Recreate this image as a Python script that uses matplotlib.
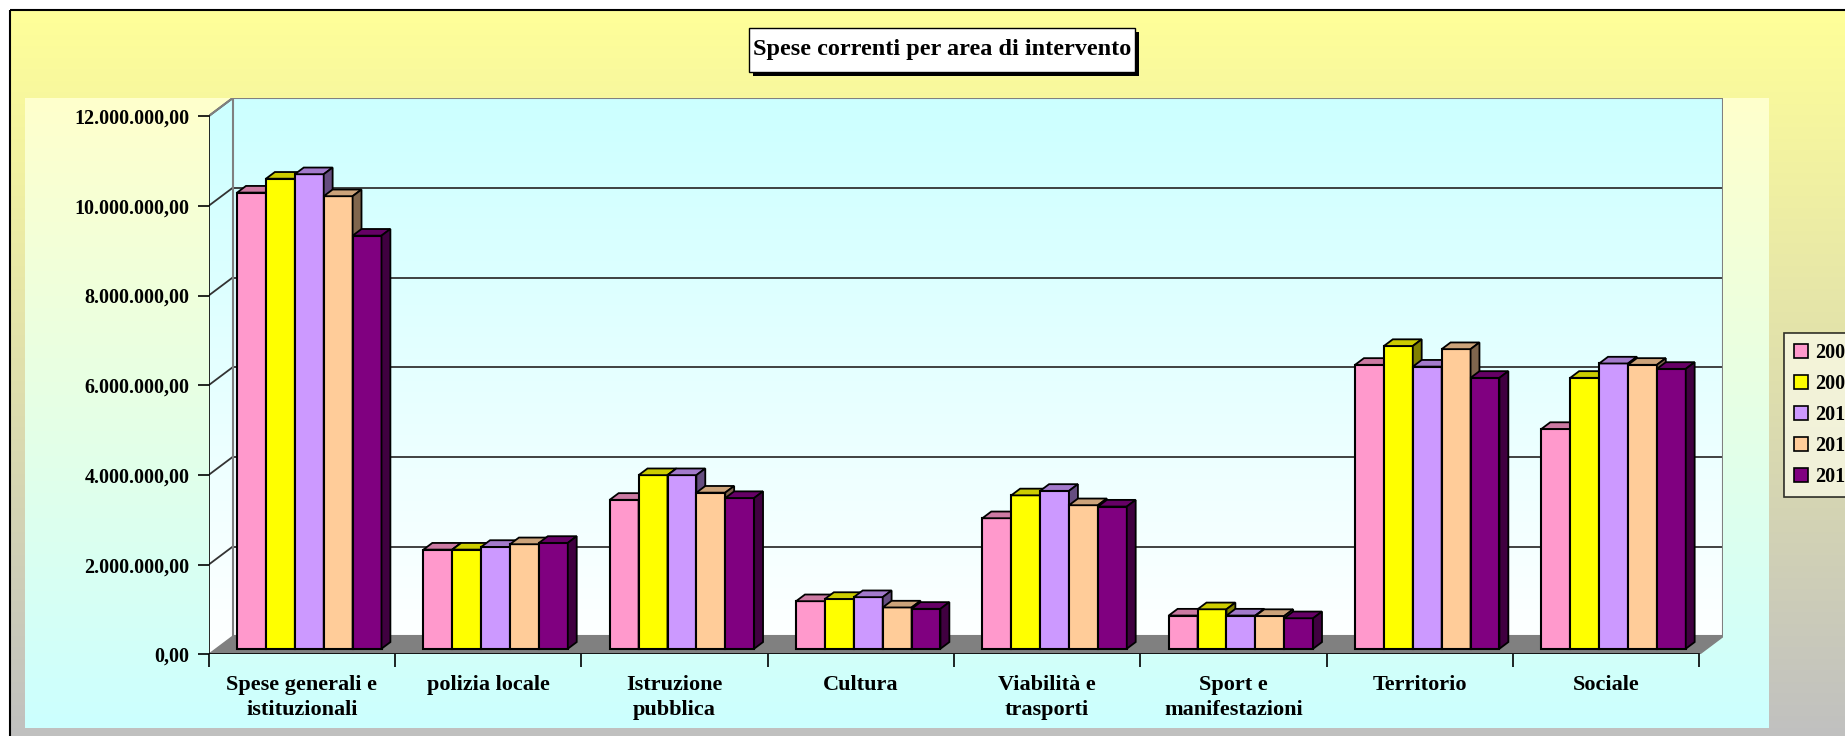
import numpy as np
import matplotlib
matplotlib.use("Agg")
import matplotlib.pyplot as plt
from matplotlib.patches import Rectangle, Polygon
from matplotlib.colors import to_rgb

plt.rcParams['font.family'] = ['Liberation Serif', 'DejaVu Serif']
plt.rcParams['font.weight'] = 'bold'

# dati
categorie = ["Spese generali e\nistituzionali", "polizia locale", "Istruzione\npubblica",
             "Cultura", "Viabilità e\ntrasporti", "Sport e\nmanifestazioni",
             "Territorio", "Sociale"]
anni = ["2008", "2009", "2010", "2011", "2012"]
v2008 = [10.17, 2.21, 3.32, 1.06, 2.91, 0.74, 6.33, 4.90]
v2009 = [10.48, 2.21, 3.87, 1.11, 3.42, 0.88, 6.75, 6.04]
v2010 = [10.58, 2.27, 3.87, 1.15, 3.52, 0.74, 6.29, 6.36]
v2011 = [10.09, 2.33, 3.48, 0.92, 3.20, 0.73, 6.68, 6.33]
v2012 = [9.21, 2.36, 3.36, 0.89, 3.17, 0.68, 6.04, 6.24]
serie = [np.array(s) * 1e6 for s in (v2008, v2009, v2010, v2011, v2012)]
colori = ["#FF99CC", "#FFFF00", "#CC99FF", "#FFCC99", "#800080"]
yticks = np.arange(0, 12e6 + 1, 2e6)

W, H = 1845, 736
fig = plt.figure(figsize=(W / 100, H / 100), dpi=100)


def shade(c, f):
    r, g, b = to_rgb(c)
    return (r * f, g * f, b * f)


def gradient(ax, extent, top, bottom, clip=None, z=0):
    t = np.array(to_rgb(top))
    b = np.array(to_rgb(bottom))
    s = np.linspace(0, 1, 256)[:, None]
    img = (t * (1 - s) + b * s)[:, None, :]
    im = ax.imshow(img, extent=extent, aspect='auto', origin='upper',
                   zorder=z, interpolation='bilinear')
    if clip is not None:
        im.set_clip_path(clip)
    return im


# sfondo (pixel)
bg = fig.add_axes([0, 0, 1, 1])
bg.set_xlim(0, W)
bg.set_ylim(H, 0)
bg.axis('off')
gradient(bg, (10, W + 5, H + 5, 10), "#FFFF99", "#C0C0C0", z=0)
bg.add_patch(Rectangle((10, 10), W, H, fill=False, ec='black', lw=1.5, zorder=1))
gradient(bg, (25, 1769, 728, 98), "#FFFFCC", "#CCFFFF", z=2)

# titolo
bg.add_patch(Rectangle((753, 32), 386, 44, fc='black', ec='none', zorder=3))
bg.add_patch(Rectangle((749, 28), 386, 44, fc='white', ec='black', lw=1, zorder=4))
bg.text(942, 50, "Spese correnti per area di intervento", ha='center', va='center',
        fontsize=17.5, fontweight='bold', zorder=5)

# assi "3D"
x0, x8 = 208.7, 1699.3
y0px, ppm = 654.3, 44.85
ppu = (x8 - x0) / 8
dpx, dpy = 24, 18
dxu = dpx / ppu
dyv = dpy / ppm * 1e6
ytop = 12e6 + dyv
ax = fig.add_axes([x0 / W, (H - y0px) / H, (x8 + dpx - x0) / W, (ytop / 1e6 * ppm) / H])
ax.set_xlim(0, 8 + dxu)
ax.set_ylim(0, ytop)
ax.patch.set_alpha(0)
for s in ax.spines.values():
    s.set_visible(False)

# pareti
back = Polygon([(dxu, dyv), (8 + dxu, dyv), (8 + dxu, ytop), (dxu, ytop)], closed=True,
               fc='none', ec='none')
ax.add_patch(back)
gradient(ax, (dxu, 8 + dxu, 0, ytop), "#CCFFFF", "#FFFFFF", clip=back, z=1)
side = Polygon([(0, 0), (dxu, dyv), (dxu, ytop), (0, 12e6)], closed=True, fc='none', ec='none')
ax.add_patch(side)
gradient(ax, (0, dxu, 0, ytop), "#CCFFFF", "#FFFFFF", clip=side, z=1)
for yv in yticks[1:]:
    ax.plot([dxu, 8 + dxu], [yv + dyv] * 2, color='#333333', lw=1.3, zorder=2)
    ax.plot([0, dxu], [yv, yv + dyv], color='#333333', lw=1.3, zorder=2)
ax.add_patch(Polygon([(dxu, dyv), (8 + dxu, dyv), (8 + dxu, ytop), (dxu, ytop)], closed=True,
                     fc='none', ec='#808080', lw=1.5, zorder=2))
ax.plot([0, dxu], [12e6, ytop], color='#808080', lw=1.5, zorder=2)
ax.add_patch(Polygon([(0, 0), (8, 0), (8 + dxu, dyv), (dxu, dyv)], closed=True,
                     fc='#808080', ec='#808080', lw=1, zorder=2))
ax.plot([0, 0], [0, 12e6], color='black', lw=1.2, zorder=3)
ax.plot([0, 8], [0, 0], color='black', lw=1.2, zorder=3)

# barre
bw = 0.155
f1, fd = 0.31, 0.37
ox, oy = f1 * dxu, f1 * dyv
bx, by = fd * dxu, fd * dyv
z = 4
handles = []
for c in range(len(categorie)):
    start = c + 0.5 - 2.5 * bw
    for i, (vals, col) in enumerate(zip(serie, colori)):
        xl = start + i * bw + ox
        xr = xl + bw
        yb = oy
        yt = vals[c] + oy
        front = Rectangle((xl, yb), bw, yt - yb, fc=col, ec='black', lw=1.5, zorder=z)
        ax.add_patch(front)
        ax.add_patch(Polygon([(xl, yt), (xr, yt), (xr + bx, yt + by), (xl + bx, yt + by)],
                             closed=True, fc=shade(col, 0.8), ec='black', lw=1.3, zorder=z + 1))
        ax.add_patch(Polygon([(xr, yb), (xr + bx, yb + by), (xr + bx, yt + by), (xr, yt)],
                             closed=True, fc=shade(col, 0.5), ec='black', lw=1.3, zorder=z + 1))
        z += 2
        if c == 0:
            handles.append(Rectangle((0, 0), 1, 1, fc=col, ec='black', lw=1.2, label=anni[i]))

# tick
ax.set_yticks(yticks)
ax.set_yticklabels([f"{v:,.2f}".replace(",", "X").replace(".", ",").replace("X", ".")
                    for v in yticks], fontsize=14.5, fontweight='bold')
ax.tick_params(axis='y', direction='out', length=8, width=1.2, pad=6)
ax.set_xticks(np.arange(8) + 0.5)
ax.set_xticklabels(categorie, fontsize=16, fontweight='bold', linespacing=1.3)
ax.set_xticks(np.arange(9), minor=True)
ax.tick_params(axis='x', which='major', length=0, pad=15)
ax.tick_params(axis='x', which='minor', direction='out', length=9, width=1.2)
ax.tick_params(right=False, top=False)

# legenda
leg = fig.legend(handles=handles, loc='upper left', bbox_to_anchor=(1784 / W, 1 - 333 / H),
                 borderaxespad=0, frameon=True, fancybox=False, shadow=False,
                 handlelength=0.7, handleheight=0.7, handletextpad=0.35,
                 labelspacing=0.55, borderpad=0.5, prop={'weight': 'bold', 'size': 14.5})
leg.get_frame().set_facecolor('#F8F8E4')
leg.get_frame().set_edgecolor('black')
leg.get_frame().set_linewidth(1.2)

fig.savefig("out.png", dpi=100)
